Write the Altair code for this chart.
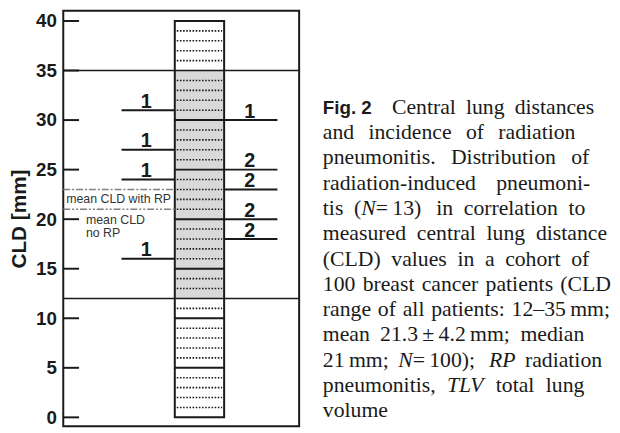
import altair as alt
import pandas as pd

# ---------------- data ----------------
y_ticks = [0, 5, 10, 15, 20, 25, 30, 35, 40]
column_span = [0, 40]                 # full CLD column
patient_span = [12, 35]               # CLD range of all patients
mm_solid = [5, 10, 15, 20, 25, 30]
mm_dotted = [1, 2, 3, 4, 6, 7, 8, 9, 11, 13, 14, 16, 17, 18, 19, 21, 22, 23, 24,
             26, 27, 28, 29, 31, 32, 33, 34, 36, 37, 38, 39]
left_cld = [31, 27, 24, 16]
left_n = ["1", "1", "1", "1"]
right_cld = [30, 25, 23, 20, 18]
right_n = ["1", "2", "2", "2", "2"]
mean_cld_rp = 23
mean_cld_no_rp = 21

# caption text; *...* marks italic runs
caption_lines = [
    "Central lung distances",
    "and incidence of radiation",
    "pneumonitis. Distribution of",
    "radiation-induced pneumoni-",
    "tis (*N*\u2009=\u200913) in correlation to",
    "measured central lung distance",
    "(CLD) values in a cohort of",
    "100 breast cancer patients (CLD",
    "range of all patients: 12\u201335\u2009mm;",
    "mean 21.3\u2009\u00b1\u20094.2\u2009mm; median",
    "21\u2009mm; *N*\u2009=\u2009100); *RP* radiation",
    "pneumonitis, *TLV* total lung",
    "volume",
]
fig_label = "Fig. 2"

# ---------------- layout ----------------
W, H = 239, 421
yscale = alt.Scale(domain=[-0.9, 41.03], nice=False, zero=False)
INK = "#1a1a1a"

yaxis = alt.Axis(values=y_ticks, ticks=False, tickSize=0, domain=False, grid=False,
                 labelFont="Liberation Sans", labelFontWeight="bold", labelFontSize=19,
                 labelColor=INK, labelPadding=7,
                 title="CLD [mm]", titleFont="Liberation Sans", titleFontWeight="bold",
                 titleFontSize=21, titleColor=INK, titleX=-38.5, titleBaseline="alphabetic")


def Y(field):
    return alt.Y(field, type="quantitative", scale=yscale, axis=yaxis)


col_df = pd.DataFrame({"a": [column_span[0]], "b": [column_span[1]]})
pat_df = pd.DataFrame({"a": [patient_span[0]], "b": [patient_span[1]]})

col_bg = alt.Chart(col_df).mark_rect(fill="white").encode(
    y=Y("a"), y2="b", x=alt.value(113), x2=alt.value(163))
gray = alt.Chart(pat_df).mark_rect(fill="#d9d9d9").encode(
    y=Y("a"), y2="b", x=alt.value(113), x2=alt.value(163))
dotted = alt.Chart(pd.DataFrame({"v": mm_dotted})).mark_rule(
    color=INK, strokeWidth=1.6, strokeDash=[1.6, 1.6]).encode(
    y=Y("v"), x=alt.value(115), x2=alt.value(161))
solid = alt.Chart(pd.DataFrame({"v": mm_solid})).mark_rule(
    color=INK, strokeWidth=2).encode(y=Y("v"), x=alt.value(113), x2=alt.value(163))
range_lines = alt.Chart(pd.DataFrame({"v": patient_span})).mark_rule(
    color=INK, strokeWidth=1.6).encode(y=Y("v"), x=alt.value(0), x2=alt.value(W))
col_outline = alt.Chart(col_df).mark_rect(fill="white", fillOpacity=0, stroke=INK,
                                          strokeWidth=2).encode(
    y=Y("a"), y2="b", x=alt.value(113), x2=alt.value(163))

left_df = pd.DataFrame({"v": left_cld, "n": left_n})
right_df = pd.DataFrame({"v": right_cld, "n": right_n})
left_lines = alt.Chart(left_df).mark_rule(color=INK, strokeWidth=2).encode(
    y=Y("v"), x=alt.value(59), x2=alt.value(113))
right_lines = alt.Chart(right_df).mark_rule(color=INK, strokeWidth=2).encode(
    y=Y("v"), x=alt.value(163), x2=alt.value(217))
lbl_style = dict(font="Liberation Sans", fontWeight="bold", fontSize=20, color=INK,
                 align="center", baseline="alphabetic", dy=-2.5)
left_lbl = alt.Chart(left_df).mark_text(**lbl_style).encode(
    y=Y("v"), x=alt.value(84), text="n")
right_lbl = alt.Chart(right_df).mark_text(**lbl_style).encode(
    y=Y("v"), x=alt.value(189), text="n")

mean_rp = alt.Chart(pd.DataFrame({"v": [mean_cld_rp]})).mark_rule(
    color="#808080", strokeWidth=1.4, strokeDash=[7, 2, 2, 2]).encode(
    y=Y("v"), x=alt.value(0), x2=alt.value(113))
mean_no = alt.Chart(pd.DataFrame({"v": [mean_cld_no_rp]})).mark_rule(
    color="#808080", strokeWidth=1.4, strokeDash=[7, 2, 2, 2, 2, 2]).encode(
    y=Y("v"), x=alt.value(0), x2=alt.value(113))
txt = dict(font="Liberation Sans", fontSize=12.5, color="#333333", align="left",
           baseline="middle")
mean_rp_txt = alt.Chart(pd.DataFrame({"v": [(mean_cld_rp + mean_cld_no_rp) / 2],
                                      "t": ["mean CLD with RP"]})).mark_text(**txt).encode(
    y=Y("v"), x=alt.value(3), text="t")
mean_no_txt = alt.Chart(pd.DataFrame({"v": [mean_cld_no_rp],
                                      "t": [["mean CLD", "no RP"]]})).mark_text(
    dy=11, lineHeight=13, **txt).encode(y=Y("v"), x=alt.value(23), text="t")

ticks = alt.Chart(pd.DataFrame({"v": y_ticks})).mark_rule(color=INK, strokeWidth=2).encode(
    y=Y("v"), x=alt.value(0), x2=alt.value(16))

plot = alt.layer(col_bg, gray, dotted, solid, range_lines, col_outline, left_lines,
                 right_lines, left_lbl, right_lbl, mean_rp, mean_no, mean_rp_txt,
                 mean_no_txt, ticks)

# ---------------- caption layout (word placement, Times metrics) ----------------
FS = 22
TIMES = {" ": 250, "(": 333, ")": 333, ",": 250, "-": 333, ".": 250, ":": 278, ";": 278,
         "=": 564, "\u00b1": 564, "\u2013": 500, "\u2009": 200,
         "A": 722, "B": 667, "C": 667, "D": 722, "E": 611, "F": 556, "G": 722, "H": 722,
         "I": 333, "L": 611, "M": 889, "N": 722, "P": 556, "R": 667, "S": 556, "T": 611,
         "V": 722, "a": 444, "b": 500, "c": 444, "d": 500, "e": 444, "f": 333, "g": 500,
         "h": 500, "i": 278, "k": 500, "l": 278, "m": 778, "n": 500, "o": 500, "p": 500,
         "r": 333, "s": 389, "t": 278, "u": 500, "v": 500, "w": 722, "y": 500}
TIMES_I = {"N": 667, "R": 611, "P": 611, "T": 556, "L": 556, "V": 611}


def seg_width(s, italic):
    tot = 0
    for ch in s:
        if italic and ch in TIMES_I:
            tot += TIMES_I[ch]
        else:
            tot += TIMES.get(ch, 500)
    return tot * FS / 1000


# right edges of the ragged caption lines (page pixels), last line left as is
line_right = [602, 583, 597, 598, 593, 615, 597, 619, 618, 592, 610, 592, None]
cap_left = 327
cap_first_left = 397
base0 = 112.5
line_gap = 25.6
OX, OY = 64, 8  # plot origin on the page

rows = []
for i, line in enumerate(caption_lines):
    words = []
    for w in line.split(" "):
        parts = w.split("*")
        segs = [(p, k % 2 == 1) for k, p in enumerate(parts) if p]
        words.append(segs)
    widths = [sum(seg_width(p, it) for p, it in segs) for segs in words]
    left = cap_first_left if i == 0 else cap_left
    if line_right[i] is not None and len(words) > 1:
        gap = (line_right[i] - left - sum(widths)) / (len(words) - 1)
        gap = max(gap, 3.0)
    else:
        gap = TIMES[" "] * FS / 1000
    x = left
    y = base0 + i * line_gap
    for segs, wd in zip(words, widths):
        sx = x
        for p, it in segs:
            rows.append({"t": p, "x": sx - OX, "y": y - OY,
                         "s": "italic" if it else "normal"})
            sx += seg_width(p, it)
        x += wd + gap
cap_df = pd.DataFrame(rows)

cap_base = alt.Chart(cap_df).encode(
    x=alt.X("x:Q", scale=None), y=alt.Y("y:Q", scale=None), text="t")
cap_norm = cap_base.transform_filter(alt.datum.s == "normal").mark_text(
    font="Liberation Serif", fontSize=FS, color=INK, align="left", baseline="alphabetic")
cap_ital = cap_base.transform_filter(alt.datum.s == "italic").mark_text(
    font="Liberation Serif", fontStyle="italic", fontSize=FS, color=INK, align="left",
    baseline="alphabetic")
fig_df = pd.DataFrame({"t": [fig_label], "x": [cap_left - OX], "y": [base0 - OY]})
fig = alt.Chart(fig_df).mark_text(font="Liberation Sans", fontWeight="bold", fontSize=19,
                                  color=INK, align="left", baseline="alphabetic").encode(
    x=alt.X("x:Q", scale=None), y=alt.Y("y:Q", scale=None), text="t")

chart = alt.layer(plot, cap_norm, cap_ital, fig).resolve_scale(y="independent").properties(
    width=W, height=H,
    autosize=alt.AutoSizeParams(type="none"),
    padding={"left": 56, "top": 0, "right": 317, "bottom": 4},
).configure_view(stroke=INK, strokeWidth=2)

chart.save("out.html", embed_options={"renderer": "svg", "actions": False})
